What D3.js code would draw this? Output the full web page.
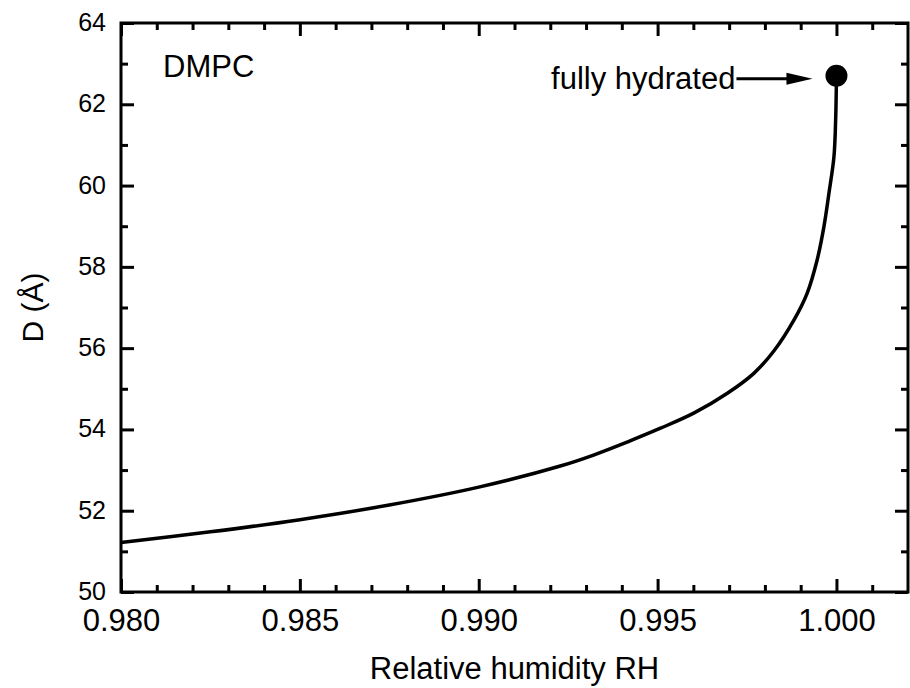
<!DOCTYPE html>
<html>
<head>
<meta charset="utf-8">
<script src="https://cdn.jsdelivr.net/npm/d3@7"></script>
<style>
  body { margin: 0; background: #fff; }
  text { font-family: "Liberation Sans", Arial, sans-serif; fill: #000; }
</style>
</head>
<body>
<svg id="chart"></svg>
<script>
// Curve: relative humidity vs repeat spacing D
var rhValues = [0.980, 0.9825, 0.985, 0.9875, 0.990, 0.99228, 0.99321, 0.99415, 0.99508, 0.99601,
                0.99695, 0.99769, 0.99825, 0.99881, 0.99918, 0.99946, 0.99965, 0.99979, 0.99993,
                0.99998, 1.000];
var dValues = [51.22, 51.48, 51.78, 52.14, 52.58, 53.10, 53.37, 53.69, 54.03, 54.40,
               54.89, 55.38, 55.93, 56.69, 57.35, 58.17, 58.99, 59.81, 60.71,
               61.7, 62.7];

// the fully hydrated point
var hydratedRH = [1.000];
var hydratedD = [62.7];

var xMajor = [0.980, 0.985, 0.990, 0.995, 1.000];
var xMinor = [0.981, 0.982, 0.983, 0.984, 0.986, 0.987, 0.988, 0.989, 0.991, 0.992,
              0.993, 0.994, 0.996, 0.997, 0.998, 0.999, 1.001];
var yMajor = [50, 52, 54, 56, 58, 60, 62, 64];
var yMinor = [51, 53, 55, 57, 59, 61, 63];

var width = 910, height = 688;
var margin = {top: 23, right: 2, bottom: 96, left: 121};

var svg = d3.select('#chart')
    .attr('width', width)
    .attr('height', height);

var x = d3.scaleLinear()
    .domain([0.980, 1.002])
    .range([margin.left, width - margin.right]);

var y = d3.scaleLinear()
    .domain([50, 64])
    .range([height - margin.bottom, margin.top]);

var majorLen = 13, minorLen = 7;

// helper to draw one set of inward ticks
function drawAxis(axisFn, scale, values, len, pos, labels, fontSize, pad) {
    var g = svg.append('g')
        .attr('transform', pos)
        .call(axisFn(scale)
            .tickValues(values)
            .tickSize(-len)
            .tickPadding(pad || 0)
            .tickFormat(labels || ''));
    g.select('.domain').remove();
    g.selectAll('.tick line')
        .attr('stroke', '#000')
        .attr('stroke-width', 3);
    g.selectAll('.tick text')
        .style('font-size', (fontSize || 10) + 'px')
        .attr('fill', '#000');
    return g;
}

var bottomY = height - margin.bottom;
var rightX = width - margin.right;

// bottom axis with labels
drawAxis(d3.axisBottom, x, xMajor, majorLen, `translate(0,${bottomY})`, d3.format('.3f'), 31, 17);
drawAxis(d3.axisBottom, x, xMinor, minorLen, `translate(0,${bottomY})`);
// top axis, ticks only
drawAxis(d3.axisTop, x, xMajor, majorLen, `translate(0,${margin.top})`);
drawAxis(d3.axisTop, x, xMinor, minorLen, `translate(0,${margin.top})`);
// left axis with labels
var leftAx = drawAxis(d3.axisLeft, y, yMajor, majorLen, `translate(${margin.left},0)`, d3.format('d'), 25, 15);
leftAx.selectAll('.tick text').attr('dy', '0.3em');
drawAxis(d3.axisLeft, y, yMinor, minorLen, `translate(${margin.left},0)`);
// right axis, ticks only
drawAxis(d3.axisRight, y, yMajor, majorLen, `translate(${rightX},0)`);
drawAxis(d3.axisRight, y, yMinor, minorLen, `translate(${rightX},0)`);

// frame
svg.append('rect')
    .attr('x', margin.left)
    .attr('y', margin.top)
    .attr('width', rightX - margin.left)
    .attr('height', bottomY - margin.top)
    .attr('fill', 'none')
    .attr('stroke', '#000')
    .attr('stroke-width', 3);

// the curve
var curveData = rhValues.map((v, i) => ({rh: v, d: dValues[i]}));
var line = d3.line()
    .x(d => x(d.rh))
    .y(d => y(d.d))
    .curve(d3.curveCatmullRom.alpha(0.5));

svg.append('path')
    .datum(curveData)
    .attr('d', line)
    .attr('fill', 'none')
    .attr('stroke', '#000')
    .attr('stroke-width', 3.5)
    .attr('stroke-linejoin', 'round');

// fully hydrated dot
var dot = hydratedRH.map((v, i) => ({rh: v, d: hydratedD[i]}));
svg.selectAll('.dot')
    .data(dot)
    .enter()
    .append('circle')
    .attr('class', 'dot')
    .attr('cx', d => x(d.rh))
    .attr('cy', d => y(d.d))
    .attr('r', 11)
    .attr('fill', '#000');

// arrow + label pointing at the dot
var dx = x(hydratedRH[0]), dy = y(hydratedD[0]);
var tipX = dx - 24, arrowY = dy + 3;
svg.append('line')
    .attr('x1', tipX - 76)
    .attr('x2', tipX - 20)
    .attr('y1', arrowY)
    .attr('y2', arrowY)
    .attr('stroke', '#000')
    .attr('stroke-width', 3);
svg.append('path')
    .attr('d', `M${tipX},${arrowY} L${tipX - 26},${arrowY - 6} L${tipX - 26},${arrowY + 6} Z`)
    .attr('fill', '#000');
svg.append('text')
    .attr('x', tipX - 77)
    .attr('y', arrowY + 10)
    .attr('text-anchor', 'end')
    .style('font-size', '31px')
    .text('fully hydrated');

// DMPC label
svg.append('text')
    .attr('x', 163)
    .attr('y', 77)
    .style('font-size', '31px')
    .text('DMPC');

// axis titles
svg.append('text')
    .attr('x', (margin.left + rightX) / 2)
    .attr('y', 679)
    .attr('text-anchor', 'middle')
    .style('font-size', '31px')
    .text('Relative humidity RH');

svg.append('text')
    .attr('transform', `translate(43,${(margin.top + bottomY) / 2}) rotate(-90)`)
    .attr('text-anchor', 'middle')
    .style('font-size', '30px')
    .text('D (Å)');
</script>
</body>
</html>
